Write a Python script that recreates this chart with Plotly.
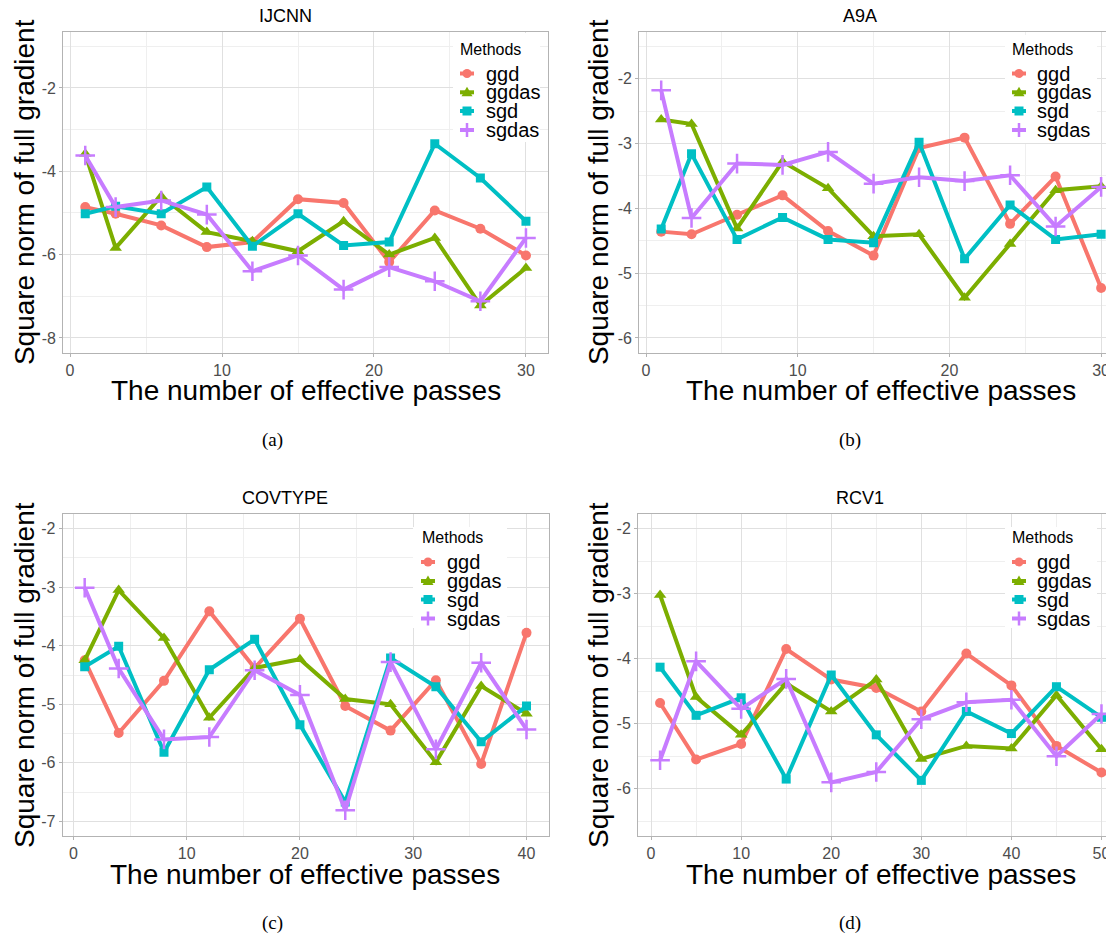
import plotly.graph_objects as go

# the page body keeps an 8px margin, so the figure is 8px smaller and shifted
OFF = 8
W, H = 1114 - OFF, 936 - OFF

methods = ["ggd", "ggdas", "sgd", "sgdas"]
colors = ["#F8766D", "#7CAE00", "#00BFC4", "#C77CFF"]

# IJCNN
ijcnn_x = [1, 3, 6, 9, 12, 15, 18, 21, 24, 27, 30]
ijcnn_ggd = [-4.86, -5.02, -5.30, -5.82, -5.70, -4.67, -4.76, -6.18, -4.94, -5.38, -6.02]
ijcnn_ggdas = [-3.58, -5.84, -4.60, -5.46, -5.68, -5.92, -5.20, -6.00, -5.60, -7.22, -6.32]
ijcnn_sgd = [-5.02, -4.84, -5.02, -4.38, -5.80, -5.02, -5.78, -5.70, -3.34, -4.16, -5.20]
ijcnn_sgdas = [-3.62, -4.86, -4.70, -5.04, -6.40, -6.02, -6.84, -6.30, -6.64, -7.12, -5.60]

# A9A
a9a_x = [1, 3, 6, 9, 12, 15, 18, 21, 24, 27, 30]
a9a_ggd = [-4.36, -4.40, -4.10, -3.80, -4.35, -4.73, -3.07, -2.91, -4.24, -3.51, -5.23]
a9a_ggdas = [-2.63, -2.70, -4.31, -3.28, -3.69, -4.43, -4.40, -5.38, -4.55, -3.72, -3.66]
a9a_sgd = [-4.32, -3.16, -4.48, -4.14, -4.48, -4.53, -2.98, -4.78, -3.95, -4.48, -4.40]
a9a_sgdas = [-2.18, -4.15, -3.31, -3.33, -3.13, -3.62, -3.52, -3.58, -3.49, -4.28, -3.67]

# COVTYPE
cov_x = [1, 4, 8, 12, 16, 20, 24, 28, 32, 36, 40]
cov_ggd = [-4.25, -5.49, -4.60, -3.41, -4.38, -3.54, -5.03, -5.45, -4.59, -6.02, -3.78]
cov_ggdas = [-4.25, -3.05, -3.87, -5.23, -4.38, -4.23, -4.91, -5.00, -5.99, -4.69, -5.16]
cov_sgd = [-4.36, -4.01, -5.82, -4.41, -3.89, -5.35, -6.67, -4.21, -4.70, -5.64, -5.03]
cov_sgdas = [-3.01, -4.39, -5.60, -5.56, -4.42, -4.84, -6.81, -4.28, -5.77, -4.29, -5.43]

# RCV1
rcv_x = [1, 5, 10, 15, 20, 25, 30, 35, 40, 45, 50]
rcv_ggd = [-4.68, -5.55, -5.31, -3.85, -4.32, -4.45, -4.81, -3.92, -4.41, -5.34, -5.75]
rcv_ggdas = [-3.02, -4.59, -5.17, -4.38, -4.81, -4.32, -5.54, -5.34, -5.38, -4.56, -5.39]
rcv_sgd = [-4.13, -4.87, -4.60, -5.85, -4.25, -5.17, -5.87, -4.81, -5.15, -4.43, -4.90]
rcv_sgdas = [-5.56, -4.04, -4.77, -4.31, -5.90, -5.74, -4.93, -4.67, -4.63, -5.50, -4.85]

# tick values / labels (hyphen minus, like ggplot)
ijcnn_yticks = [-8, -6, -4, -2]
a9a_yticks = [-6, -5, -4, -3, -2]
cov_yticks = [-7, -6, -5, -4, -3, -2]
rcv_yticks = [-6, -5, -4, -3, -2]
ijcnn_xticks = [0, 10, 20, 30]
a9a_xticks = [0, 10, 20, 30]
cov_xticks = [0, 10, 20, 30, 40]
rcv_xticks = [0, 10, 20, 30, 40, 50]

titles = ["IJCNN", "A9A", "COVTYPE", "RCV1"]
captions = ["(a)", "(b)", "(c)", "(d)"]
xtitle = "The number of effective passes"
ytitle = "Square norm of full gradient"
legend_title = "Methods"

panels = [
    (ijcnn_x, [ijcnn_ggd, ijcnn_ggdas, ijcnn_sgd, ijcnn_sgdas], ijcnn_xticks, ijcnn_yticks),
    (a9a_x, [a9a_ggd, a9a_ggdas, a9a_sgd, a9a_sgdas], a9a_xticks, a9a_yticks),
    (cov_x, [cov_ggd, cov_ggdas, cov_sgd, cov_sgdas], cov_xticks, cov_yticks),
    (rcv_x, [rcv_ggd, rcv_ggdas, rcv_sgd, rcv_sgdas], rcv_xticks, rcv_yticks),
]


def px(x):
    return (x - OFF) / W


def py(y):
    return 1 - (y - OFF) / H


def lab(v):
    return str(v).replace("\u2212", "-")


# pixel boxes of the panels (page pixels): left, right, top, bottom
boxes = [
    (63.2, 548.0, 31.7, 352.5),
    (639.2, 1114.0, 31.7, 352.5),
    (62.6, 548.6, 514.0, 836.0),
    (638.0, 1114.0, 514.0, 836.0),
]
xranges = [[-0.45, 31.45], [-0.45, 30.85], [-0.95, 41.95], [-1.45, 51.39]]
yranges = [[-8.35, -0.65], [-6.225, -1.275], [-7.25, -1.75], [-6.725, -1.775]]
yminor = [1, 0.5, 0.5, 0.5]

markers = [
    dict(symbol="circle", size=10),
    dict(symbol="triangle-up", size=11),
    dict(symbol="square", size=9),
    dict(symbol="cross-thin", size=14),
]

sans = "Liberation Sans, Arial, sans-serif"
tick_font = dict(family=sans, size=16, color="#4d4d4d")
border = "#b3b3b3"

fig = go.Figure()
layout = dict(
    template="none",
    width=W, height=H, margin=dict(l=0, r=0, t=0, b=0, autoexpand=False),
    paper_bgcolor="white", plot_bgcolor="white", showlegend=False,
)
annotations = []
shapes = []


def note(x, y, text, size, family=sans, xanchor="center", angle=0):
    annotations.append(dict(x=px(x), y=py(y), text=text, showarrow=False, xref="paper", yref="paper",
                            xanchor=xanchor, yanchor="middle", textangle=angle,
                            font=dict(family=family, size=size, color="black")))


for i, (xs, series, xt, yt) in enumerate(panels):
    sfx = "" if i == 0 else str(i + 1)
    l, r, t, b = boxes[i]
    for j, ys in enumerate(series):
        mk = dict(markers[j])
        mk["color"] = colors[j]
        if mk["symbol"] == "cross-thin":
            mk["line"] = dict(color=colors[j], width=2.5)
        fig.add_trace(go.Scatter(
            x=xs, y=ys, mode="lines+markers", name=methods[j],
            line=dict(color=colors[j], width=4), marker=mk,
            xaxis="x" + sfx, yaxis="y" + sfx, showlegend=False,
        ))
    layout["xaxis" + sfx] = dict(
        domain=[px(l), min(px(r), 1.0)], range=xranges[i], anchor="y" + sfx, automargin=False,
        tickmode="array", tickvals=xt, ticktext=[lab(v) for v in xt],
        ticks="outside", ticklen=3, tickcolor=border, tickfont=tick_font,
        showline=True, linecolor=border, linewidth=1, mirror=True,
        showgrid=True, gridcolor="#e0e0e0", gridwidth=1, zeroline=False,
        minor=dict(tickmode="linear", tick0=0, dtick=5, showgrid=True, gridcolor="#efefef", gridwidth=1),
    )
    layout["yaxis" + sfx] = dict(
        domain=[py(b), py(t)], range=yranges[i], anchor="x" + sfx, automargin=False,
        tickmode="array", tickvals=yt, ticktext=[lab(v) for v in yt],
        ticks="outside", ticklen=3, tickcolor=border, tickfont=tick_font,
        showline=True, linecolor=border, linewidth=1, mirror=(i % 2 == 0),
        showgrid=True, gridcolor="#e0e0e0", gridwidth=1, zeroline=False,
        minor=dict(tickmode="linear", tick0=0, dtick=yminor[i], showgrid=True, gridcolor="#efefef", gridwidth=1),
    )

    left = i % 2 == 0
    note(285 if left else 860, t - 16, titles[i], 18)
    note((l + 548) / 2 if left else (l + 1123) / 2, b + 38, xtitle, 28)
    note(24 if left else 598, (t + b) / 2, ytitle, 28, angle=-90)
    note(272 if left else 850, b + 87, captions[i], 19, family="Liberation Serif, serif")

# ggplot-style legends drawn inside each panel
legend_boxes = [
    (453, 540, 33, 142, 458, 467, 484, 49, [73.5, 92.3, 111, 130]),
    (1005, 1097, 35, 143, 1010, 1019, 1035, 49, [73.5, 92.3, 111, 130]),
    (413, 507, 527, 628, 420, 428, 445, 537.5, [562, 581, 599.5, 618.5]),
    (1005, 1097, 527, 628, 1010, 1019, 1035, 537.5, [562, 581, 599.5, 618.5]),
]
for (bl, br, bt, bb, tx, gx, lx, ty, rows) in legend_boxes:
    shapes.append(dict(type="rect", xref="paper", yref="paper", x0=px(bl), x1=px(br),
                       y0=py(bb), y1=py(bt), fillcolor="white", line=dict(width=0), layer="above"))
    note(tx, ty, legend_title, 16, xanchor="left")
    for j, ry in enumerate(rows):
        c = colors[j]
        shapes.append(dict(type="line", xref="paper", yref="paper", x0=px(gx - 7), x1=px(gx + 7),
                           y0=py(ry), y1=py(ry), line=dict(color=c, width=4), layer="above"))
        if j == 0:
            shapes.append(dict(type="circle", xref="paper", yref="paper", x0=px(gx - 4.5), x1=px(gx + 4.5),
                               y0=py(ry + 4.5), y1=py(ry - 4.5), fillcolor=c, line=dict(width=0), layer="above"))
        elif j == 1:
            path = "M %f %f L %f %f L %f %f Z" % (px(gx - 5.5), py(ry + 4), px(gx + 5.5), py(ry + 4),
                                                  px(gx), py(ry - 5.5))
            shapes.append(dict(type="path", xref="paper", yref="paper", path=path,
                               fillcolor=c, line=dict(width=0), layer="above"))
        elif j == 2:
            shapes.append(dict(type="rect", xref="paper", yref="paper", x0=px(gx - 4.5), x1=px(gx + 4.5),
                               y0=py(ry + 4.5), y1=py(ry - 4.5), fillcolor=c, line=dict(width=0), layer="above"))
        else:
            shapes.append(dict(type="line", xref="paper", yref="paper", x0=px(gx), x1=px(gx),
                               y0=py(ry + 7), y1=py(ry - 7), line=dict(color=c, width=2.5), layer="above"))
        note(lx, ry, methods[j], 20, xanchor="left")

layout["annotations"] = annotations
layout["shapes"] = shapes
fig.update_layout(**layout)
fig.write_html("out.html")
